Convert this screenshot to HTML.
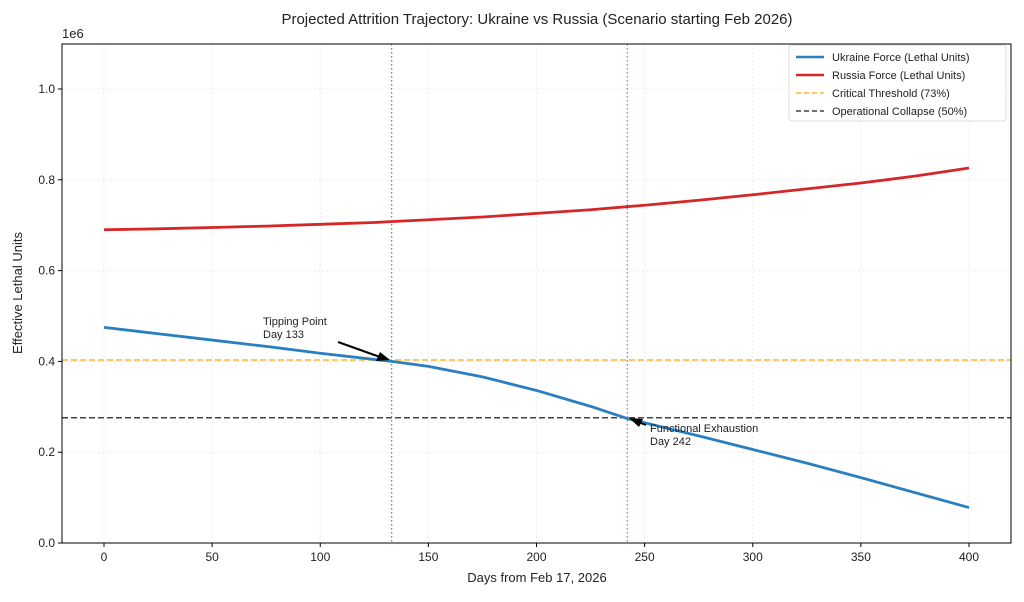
<!DOCTYPE html>
<html><head><meta charset="utf-8"><style>
body{margin:0;background:#fff;font-family:"Liberation Sans",sans-serif}
svg text{font-family:"Liberation Sans",sans-serif;fill:#222}
</style></head><body>
<svg id="chart" width="1024" height="597" xmlns="http://www.w3.org/2000/svg">
<text x="537" y="24" text-anchor="middle" font-size="15">Projected Attrition Trajectory: Ukraine vs Russia (Scenario starting Feb 2026)</text>
<g id="grid"></g>
<g id="marks"></g>
<g id="axes"></g>
<text x="62" y="38" font-size="13">1e6</text>
<text x="537" y="582" text-anchor="middle" font-size="13">Days from Feb 17, 2026</text>
<text x="22" y="293" text-anchor="middle" font-size="13" transform="rotate(-90 22 293)">Effective Lethal Units</text>
<g>
<text x="263" y="325" font-size="11">Tipping Point</text><text x="263" y="338" font-size="11">Day 133</text>
<line x1="338" y1="342" x2="380" y2="357" stroke="#000" stroke-width="2"/>
<polygon points="390,360 376,361 380,352" fill="#000"/>
</g>
<g>
<text x="650" y="432" font-size="11">Functional Exhaustion</text><text x="650" y="445" font-size="11">Day 242</text>
<line x1="646" y1="425" x2="638" y2="422" stroke="#000" stroke-width="2"/>
<polygon points="629,418 643,419 639,427" fill="#000"/>
</g>
<g>
<rect x="789" y="45" width="217" height="76" fill="#fff" stroke="#ddd" rx="3"/>
<line x1="796" y1="57" x2="824" y2="57" stroke="#2a7fc1" stroke-width="2.5"/><text x="832" y="61" font-size="11">Ukraine Force (Lethal Units)</text>
<line x1="796" y1="75" x2="824" y2="75" stroke="#d62728" stroke-width="2.5"/><text x="832" y="79" font-size="11">Russia Force (Lethal Units)</text>
<line x1="796" y1="93" x2="824" y2="93" stroke="#ffb52e" stroke-width="1.5" stroke-dasharray="5,3"/><text x="832" y="97" font-size="11">Critical Threshold (73%)</text>
<line x1="796" y1="111" x2="824" y2="111" stroke="#444" stroke-width="1.5" stroke-dasharray="5,3"/><text x="832" y="115" font-size="11">Operational Collapse (50%)</text>
</g>
</svg>
<script>
const days=[0,25,50,75,100,133,150,175,200,225,242,275,300,325,350,375,400];
const ukraine=[0.475,0.461,0.447,0.433,0.418,0.400,0.389,0.366,0.336,0.301,0.274,0.236,0.206,0.176,0.144,0.111,0.078];
const russiaDays=[0,25,50,75,100,125,150,175,200,225,250,275,300,325,350,375,400];
const russia=[0.690,0.692,0.695,0.698,0.702,0.706,0.712,0.718,0.726,0.734,0.744,0.755,0.767,0.780,0.793,0.808,0.826];
const critical=0.403, collapse=0.276, tipDay=133, exhaustDay=242;
const xTicks=[0,50,100,150,200,250,300,350,400];
const yTicks=[0,0.2,0.4,0.6,0.8,1.0];
const L=62,R=1011,T=44,B=543;
const X=d=>104+d*(969-104)/400, Y=v=>543-v*454;
const NS="http://www.w3.org/2000/svg";
function mk(p,tag,a){const e=document.createElementNS(NS,tag);for(const k in a)e.setAttribute(k,a[k]);p.appendChild(e);return e;}
const grid=document.getElementById('grid'),marks=document.getElementById('marks'),axes=document.getElementById('axes');
xTicks.forEach(t=>{const g=mk(grid,'line',{x1:X(t),x2:X(t),y1:T,y2:B,stroke:'#ececec','stroke-dasharray':'2,2'});

mk(axes,'line',{x1:X(t),x2:X(t),y1:B,y2:B+4,stroke:'#000'});
const tx=mk(axes,'text',{x:X(t),y:B+18,'text-anchor':'middle','font-size':12});tx.textContent=t;
});
yTicks.forEach(t=>{const g=mk(grid,'line',{x1:L,x2:R,y1:Y(t),y2:Y(t),stroke:'#ececec','stroke-dasharray':'2,2'});

mk(axes,'line',{x1:L-4,x2:L,y1:Y(t),y2:Y(t),stroke:'#000'});
const tx=mk(axes,'text',{x:L-7,y:Y(t)+4,'text-anchor':'end','font-size':12});tx.textContent=t.toFixed(1);
});
mk(axes,'rect',{x:L,y:T,width:R-L,height:B-T,fill:'none',stroke:'#000'});
let e;
e=mk(marks,'line',{x1:L,x2:R,y1:Y(critical),y2:Y(critical),stroke:'#ffb52e','stroke-width':1.5,'stroke-dasharray':'6,3'});

e=mk(marks,'line',{x1:L,x2:R,y1:Y(collapse),y2:Y(collapse),stroke:'#444','stroke-width':1.5,'stroke-dasharray':'6,3'});

e=mk(marks,'line',{x1:X(tipDay),x2:X(tipDay),y1:T,y2:B,stroke:'#3cb043','stroke-width':1.3,'stroke-dasharray':'1.5,2.5'});

e=mk(marks,'line',{x1:X(exhaustDay),x2:X(exhaustDay),y1:T,y2:B,stroke:'#c060c0','stroke-width':1.3,'stroke-dasharray':'1.5,2.5'});

e=mk(marks,'polyline',{points:days.map((d,i)=>X(d)+','+Y(ukraine[i])).join(' '),fill:'none',stroke:'#2a7fc1','stroke-width':2.8,'stroke-linejoin':'round'});

e=mk(marks,'polyline',{points:russiaDays.map((d,i)=>X(d)+','+Y(russia[i])).join(' '),fill:'none',stroke:'#d62728','stroke-width':2.8,'stroke-linejoin':'round'});

</script>
</body></html>
